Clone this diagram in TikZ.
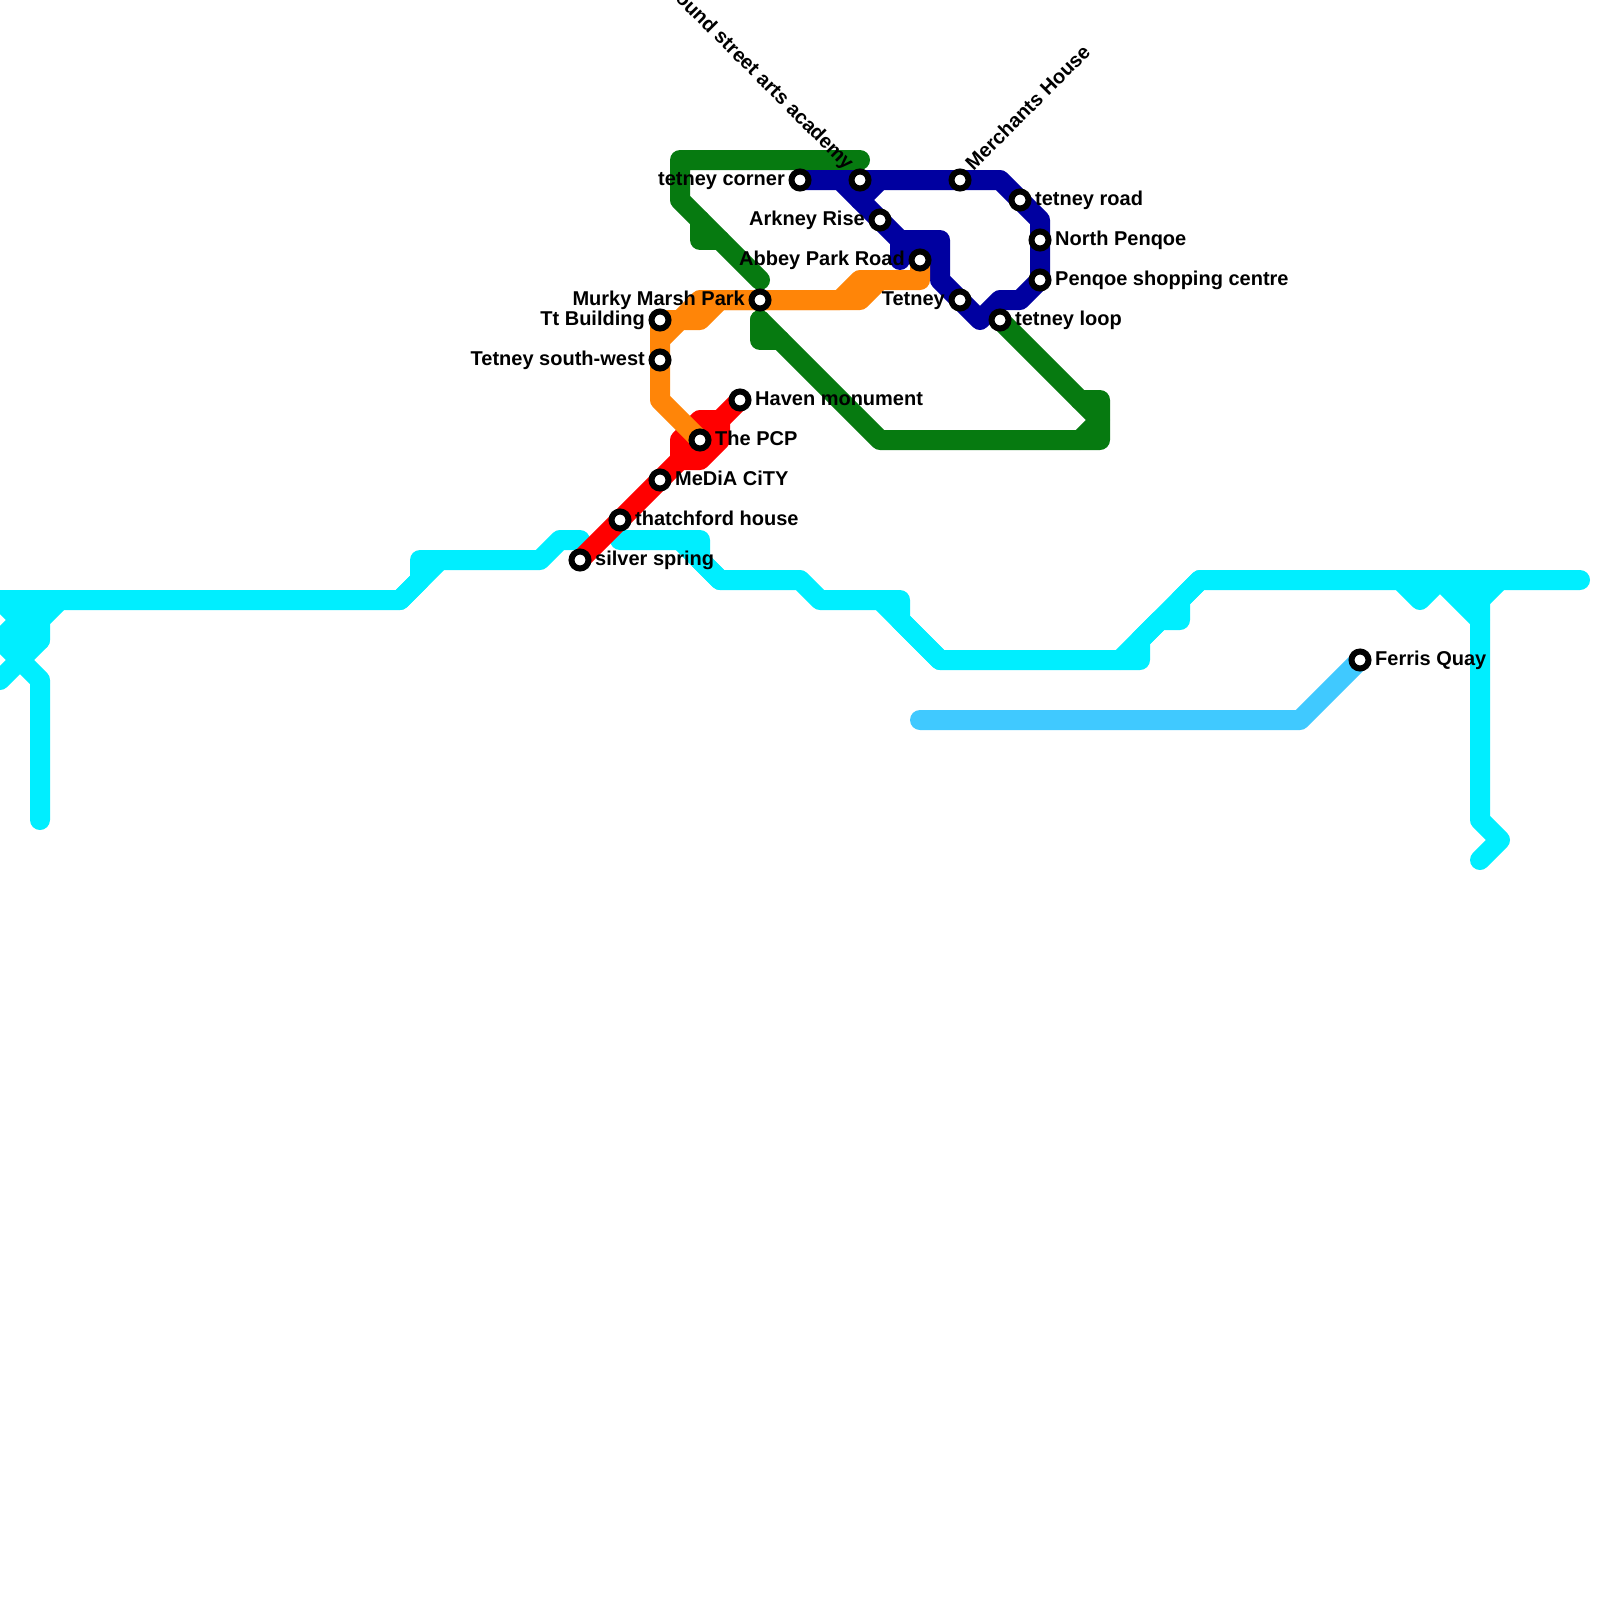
\documentclass[tikz,border=0pt]{standalone}
\usepackage{fontspec}
\setmainfont{Liberation Sans}
\definecolor{lcyan}{HTML}{00EEFF}
\definecolor{lsky}{HTML}{40C9FF}
\definecolor{lgreen}{HTML}{067A10}
\definecolor{lblue}{HTML}{0000A0}
\definecolor{lorange}{HTML}{FF8508}
\definecolor{lred}{HTML}{FF0000}
\tikzset{
  metro/.style={line width=20pt,line cap=round,line join=round},
  stn/.style={circle,draw=black,fill=white,line width=6pt,minimum size=17pt,inner sep=0pt,outer sep=0pt},
  lab/.style={font=\fontsize{20}{22}\selectfont\bfseries,inner sep=0pt,text=black},
  labr/.style={lab,anchor=base west,xshift=15pt,yshift=-5.5pt},
  labl/.style={lab,anchor=base east,xshift=-15pt,yshift=-5.5pt}
}
\begin{document}
\begin{tikzpicture}[x=1pt,y=-1pt]
\useasboundingbox (0,0) rectangle (1600,1600);
\coordinate (silver) at (580,560);
\coordinate (thatch) at (620,520);
\coordinate (media) at (660,480);
\coordinate (pcp) at (700,440);
\coordinate (haven) at (740,400);
\coordinate (murky) at (760,300);
\coordinate (tt) at (660,320);
\coordinate (tsw) at (660,360);
\coordinate (corner) at (800,180);
\coordinate (round) at (860,180);
\coordinate (arkney) at (880,220);
\coordinate (abbey) at (920,260);
\coordinate (tetney) at (960,300);
\coordinate (loop) at (1000,320);
\coordinate (merch) at (960,180);
\coordinate (troad) at (1020,200);
\coordinate (north) at (1040,240);
\coordinate (penq) at (1040,280);
\coordinate (ferris) at (1360,660);
% cyan
\draw[metro,lcyan] (0,600)--(400,600)--(420,580)--(420,560)--(540,560)--(560,540)--(580,540);
\draw[metro,lcyan] (400,600)--(440,560);
\draw[metro,lcyan] (0,600)--(40,640)--(0,680);
\draw[metro,lcyan] (0,640)--(40,600);
\draw[metro,lcyan] (60,600)--(40,620)--(40,640);
\draw[metro,lcyan] (20,600)--(20,660);
\draw[metro,lcyan] (0,640)--(40,680)--(40,820);
\draw[metro,lcyan] (620,540)--(700,540)--(700,560)--(720,580)--(800,580)--(820,600)--(900,600)--(900,620)--(940,660)--(1140,660)--(1140,640)--(1160,620)--(1180,620)--(1180,600)--(1200,580)--(1580,580);
\draw[metro,lcyan] (680,540)--(720,580);
\draw[metro,lcyan] (880,600)--(940,660);
\draw[metro,lcyan] (1120,660)--(1200,580);
\draw[metro,lcyan] (1400,580)--(1420,600)--(1440,580)--(1480,620);
\draw[metro,lcyan] (1470,580)--(1470,600);
\draw[metro,lcyan] (1480,600)--(1500,580);
\draw[metro,lcyan] (1480,580)--(1480,820)--(1500,840)--(1480,860);
% sky
\draw[metro,lsky] (920,720)--(1300,720)--(ferris);
% green
\draw[metro,lgreen] (860,160)--(680,160)--(680,200)--(760,280);
\draw[metro,lgreen] (700,220)--(700,240)--(720,240);
\draw[metro,lgreen] (760,320)--(760,340)--(780,340);
\draw[metro,lgreen] (760,320)--(880,440)--(1100,440)--(1100,400)--(1080,400)--(loop);
\draw[metro,lgreen] (1080,400)--(1100,420)--(1080,440);
% red
\draw[metro,lred] (silver)--(thatch)--(media)--(680,460)--(680,440)--(700,420)--(720,420)--(haven);
\draw[metro,lred] (680,460)--(700,460)--(720,440)--(720,420);
\draw[metro,lred] (680,460)--(720,420);
% blue
\draw[metro,lblue] (corner)--(round)--(merch)--(1000,180)--(troad)--(1040,220)--(north)--(penq)--(1020,300)--(1000,300)--(980,320)--(tetney)--(940,280)--(940,240)--(900,240)--(arkney)--(840,180);
\draw[metro,lblue] (900,240)--(900,260);
\draw[metro,lblue] (920,240)--(abbey);
\draw[metro,lblue] (860,200)--(880,180);
% orange
\draw[metro,lorange] (pcp)--(660,400)--(tsw)--(660,340)--(680,320)--(700,320)--(720,300)--(murky)--(840,300)--(860,280)--(920,280)--(abbey);
\draw[metro,lorange] (tt)--(680,320)--(700,300)--(murky)--(860,300)--(880,280);
\draw[metro,lorange] (tt)--(tsw);
% stations
\foreach \s/\n in {silver/nsilver,thatch/nthatch,media/nmedia,pcp/npcp,haven/nhaven,murky/nmurky,tt/ntt,tsw/ntsw,corner/ncorner,round/nround,arkney/narkney,abbey/nabbey,tetney/ntetney,loop/nloop,merch/nmerch,troad/ntroad,north/nnorth,penq/npenq,ferris/nferris}
  \node[stn] (\n) at (\s) {};
% labels
\node[labr] (tsilver) at (silver) {silver spring};
\node[labr] (tthatch) at (thatch) {thatchford house};
\node[labr] (tmedia) at (media) {MeDiA CiTY};
\node[labr] (tpcp) at (pcp) {The PCP};
\node[labr] (thaven) at (haven) {Haven monument};
\node[labl] (tmurky) at (murky) {Murky Marsh Park};
\node[labl] (ttt) at (tt) {Tt Building};
\node[labl] (ttsw) at (tsw) {Tetney south-west};
\node[labl] (tcorner) at (corner) {tetney corner};
\node[labl] (tarkney) at (arkney) {Arkney Rise};
\node[labl] (tabbey) at (abbey) {Abbey Park Road};
\node[labl] (ttetney) at (tetney) {Tetney};
\node[labr] (tloop) at (loop) {tetney loop};
\node[labr] (ttroad) at (troad) {tetney road};
\node[labr] (tnorth) at (north) {North Penqoe};
\node[labr] (tpenq) at (penq) {Penqoe shopping centre};
\node[labr] (tferris) at (ferris) {Ferris Quay};
\node[lab,anchor=base west,rotate=45] (tmerch) at ([shift={(13.5,-8.5)}]merch) {Merchants House};
\node[lab,anchor=base east,rotate=-45] (tround) at ([shift={(-14,-9)}]round) {Round street arts academy};
\end{tikzpicture}
\end{document}
